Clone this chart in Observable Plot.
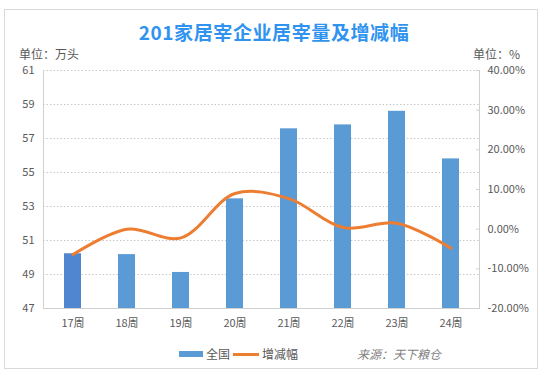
<!DOCTYPE html>
<html><head><meta charset="utf-8">
<script src="https://cdn.jsdelivr.net/npm/d3@7"></script>
<script src="https://cdn.jsdelivr.net/npm/@observablehq/plot@0.6"></script>
<style>
html,body{margin:0;padding:0;background:#fff;}
#wrap{position:relative;width:548px;height:376px;font-family:"Noto Sans CJK SC","Noto Sans",sans-serif;color:#595959;overflow:hidden;}
#box{position:absolute;left:4px;top:9px;width:534px;height:360px;border:1px solid #d9d9d9;box-sizing:border-box;}
#chart{position:absolute;left:0;top:0;}
.t{position:absolute;white-space:nowrap;}
</style></head>
<body><div id="wrap"><div id="box"></div><div id="chart"></div>
<div class="t" style="left:0;width:548px;top:18px;text-align:center;font-size:19px;font-weight:bold;color:#2f93ef;letter-spacing:0.6px;">201家居宰企业居宰量及增减幅</div>
<div class="t" style="left:19px;top:45px;font-size:12px;">单位：万头</div>
<div class="t" style="left:473px;top:45px;font-size:12px;">单位：%</div>
<div class="t" style="left:179px;top:351px;width:24px;height:6px;background:#5b9bd5;"></div>
<div class="t" style="left:206px;top:345px;font-size:12px;">全国</div>
<div class="t" style="left:233px;top:353px;width:26px;height:2.5px;background:#ed7d31;"></div>
<div class="t" style="left:262px;top:345px;font-size:12px;">增减幅</div>
<div class="t" style="left:357px;top:345px;font-size:12px;font-style:italic;color:#7f7f7f;">来源：天下粮仓</div>
</div>
<script>
const weeks = ["17周","18周","19周","20周","21周","22周","23周","24周"];
const volume = [50.22, 50.17, 49.12, 53.45, 57.57, 57.8, 58.6, 55.8];
const change = [-6.4, 0.0, -2.2, 9.0, 7.7, 0.4, 1.5, -4.8];
const leftTicks = [47, 49, 51, 53, 55, 57, 59, 61];
const rightTicks = [-20, -10, 0, 10, 20, 30, 40];

const L0 = 47, L1 = 61, R0 = -20, R1 = 40;
const toLeft = p => L0 + (p - R0) / (R1 - R0) * (L1 - L0);
const toPct = v => R0 + (v - L0) / (L1 - L0) * (R1 - R0);

const data = weeks.map((w, i) => ({week: w, vol: volume[i], pct: change[i], first: i === 0}));

const chart = Plot.plot({
  width: 548, height: 376,
  marginLeft: 43, marginRight: 69, marginTop: 70, marginBottom: 68,
  style: {fontFamily: "'Noto Sans CJK SC','Noto Sans',sans-serif", fontSize: "11px", color: "#595959", background: "transparent"},
  x: {domain: weeks, paddingInner: 0.69, paddingOuter: 0.345, label: null},
  y: {domain: [L0, L1], label: null},
  marks: [
    Plot.gridY(leftTicks, {stroke: "#c8c8c8", strokeOpacity: 1, strokeDasharray: "1.5,2"}),
    Plot.barY(data, {x: "week", y1: L0, y2: "vol", fill: d => d.first ? "#4f86cf" : "#5b9bd5"}),
    Plot.ruleY([L0], {stroke: "#d0d0d0"}),
    Plot.frame({anchor: "left", stroke: "#d0d0d0"}),
    Plot.frame({anchor: "right", stroke: "#d0d0d0"}),
    Plot.line(data, {x: "week", y: d => toLeft(d.pct), stroke: "#ed7d31", strokeWidth: 3, curve: "catmull-rom"}),
    Plot.axisY(leftTicks, {anchor: "left", tickSize: 0, tickPadding: 9, label: null, fill: "#595959"}),
    Plot.axisY(rightTicks.map(toLeft), {anchor: "right", tickSize: -4, tickPadding: 12, label: null, fill: "#595959", stroke: "#d0d0d0",
      tickFormat: v => Math.round(toPct(v)).toFixed(2) + "%"}),
    Plot.axisX({tickSize: 0, tickPadding: 11, label: null, fill: "#595959"})
  ]
});
document.getElementById("chart").appendChild(chart);
</script></body></html>
